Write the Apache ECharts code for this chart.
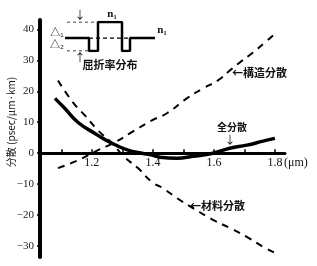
<!DOCTYPE html>
<html>
<head>
<meta charset="utf-8">
<script src="https://cdn.jsdelivr.net/npm/echarts@6/dist/echarts.min.js"></script>
<style>
  html, body { margin: 0; padding: 0; background: #fff; }
  #custom-chart { width: 317px; height: 266px; }
</style>
</head>
<body>
<div id="custom-chart"></div>
<script>
// 波長 (μm)
var totalX = [1.079, 1.111, 1.154, 1.210, 1.266, 1.318, 1.364, 1.397, 1.423, 1.479, 1.531, 1.597, 1.652, 1.708, 1.761, 1.800];
var totalY = [17.7, 14.5, 10.0, 6.4, 3.2, 1.0, 0, -0.6, -1.3, -1.6, -1.0, 0, 1.6, 2.6, 3.9, 4.8];

var materialX = [1.089, 1.138, 1.177, 1.220, 1.266, 1.308, 1.351, 1.397, 1.433, 1.479, 1.531, 1.597, 1.652, 1.708, 1.761, 1.800];
var materialY = [23.5, 16.4, 12.2, 7.4, 3.2, -1.3, -4.8, -9.3, -11.3, -14.5, -17.7, -21.5, -24.1, -27.0, -30.2, -32.2];

var structX = [1.089, 1.154, 1.220, 1.275, 1.331, 1.397, 1.446, 1.511, 1.564, 1.613, 1.652, 1.685, 1.728, 1.767, 1.800];
var structY = [-4.8, -2.3, 1.0, 3.5, 6.8, 10.6, 12.9, 17.7, 20.9, 23.5, 26.7, 29.3, 32.5, 35.7, 38.6];

var yTicks = [-30, -20, -10, 0, 10, 20, 30, 40];
var xTicks = [1.1, 1.2, 1.3, 1.4, 1.5, 1.6, 1.7, 1.8];
var xLabels = [1.2, 1.4, 1.6, 1.8];

// 屈折率分布 (模式図)
var profileR = [0, 2.4, 2.4, 3.3, 3.3, 5.7, 5.7, 6.5, 6.5, 9.0];
var profileN = [0, 0, -0.8, -0.8, 1, 1, -0.8, -0.8, 0, 0];
var delta1R = [0.2, 3.3];
var delta2R = [0.2, 2.4];
var coreR = [2.4, 6.5];

var numFont = '"Liberation Serif", "DejaVu Serif", serif';
var cjkFont = '"Noto Sans CJK JP", sans-serif';

var Y_MIN = -33.5, Y_MAX = 43;
var GRID_TOP = 20, GRID_BOTTOM = 9, H = 266;

function pairs(xs, ys) {
  return xs.map(function (x, i) { return [x, ys[i]]; });
}

function hLine(xs, y) {
  return xs.map(function (x) { return [x, y]; });
}

// x軸を y=0 の位置へ移す
var plotH = H - GRID_TOP - GRID_BOTTOM;
var zeroOffset = -(0 - Y_MIN) / (Y_MAX - Y_MIN) * plotH;

var chart = echarts.init(document.getElementById('custom-chart'));

var option = {
  backgroundColor: '#fff',
  animation: false,
  grid: [
    { left: 40, right: 32, top: GRID_TOP, bottom: GRID_BOTTOM, outerBoundsMode: 'none', containLabel: false },
    { left: 65, width: 90, top: 22, height: 29, outerBoundsMode: 'none', containLabel: false }
  ],
  xAxis: [
    {
      type: 'value',
      min: 1.03,
      max: 1.833,
      gridIndex: 0,
      position: 'bottom',
      offset: zeroOffset,
      splitLine: { show: false },
      axisLine: { onZero: false, lineStyle: { color: '#000', width: 3 } },
      axisTick: { inside: true, length: 4, customValues: xTicks, lineStyle: { color: '#000', width: 1.5 } },
      axisLabel: {
        customValues: xLabels,
        margin: 4,
        color: '#111',
        fontSize: 12,
        fontFamily: numFont,
        formatter: function (v) { return v.toFixed(1); }
      }
    },
    { type: 'value', gridIndex: 1, min: 0, max: 9, show: false }
  ],
  yAxis: [
    {
      type: 'value',
      min: Y_MIN,
      max: Y_MAX,
      gridIndex: 0,
      splitLine: { show: false },
      axisLine: { onZero: false, lineStyle: { color: '#000', width: 4 } },
      axisTick: { length: 3, customValues: yTicks, lineStyle: { color: '#000', width: 1.5 } },
      axisLabel: {
        customValues: yTicks,
        margin: 6,
        color: '#222',
        fontSize: 11,
        fontFamily: numFont,
        formatter: function (v) { return String(v).replace('-', '−'); }
      }
    },
    { type: 'value', gridIndex: 1, min: -0.8, max: 1, show: false }
  ],
  series: [
    {
      name: '全分散', type: 'line', smooth: true, showSymbol: false,
      data: pairs(totalX, totalY),
      lineStyle: { color: '#000', width: 3.5 }
    },
    {
      name: '材料分散', type: 'line', smooth: true, showSymbol: false,
      data: pairs(materialX, materialY),
      lineStyle: { color: '#000', width: 2, type: [7, 6] }
    },
    {
      name: '構造分散', type: 'line', smooth: true, showSymbol: false,
      data: pairs(structX, structY),
      lineStyle: { color: '#000', width: 2, type: [7, 6] }
    },
    {
      type: 'line', xAxisIndex: 1, yAxisIndex: 1, showSymbol: false,
      data: pairs(profileR, profileN),
      lineStyle: { color: '#000', width: 2.5 }
    },
    {
      type: 'line', xAxisIndex: 1, yAxisIndex: 1, showSymbol: false,
      data: hLine(delta1R, 1),
      lineStyle: { color: '#000', width: 1.2, type: [3, 3] }
    },
    {
      type: 'line', xAxisIndex: 1, yAxisIndex: 1, showSymbol: false,
      data: hLine(delta2R, -0.8),
      lineStyle: { color: '#000', width: 1.2, type: [3, 3] }
    },
    {
      type: 'line', xAxisIndex: 1, yAxisIndex: 1, showSymbol: false, z: 1,
      data: hLine(coreR, 0),
      lineStyle: { color: '#000', width: 1.2, type: [4, 3] }
    }
  ],
  graphic: [
    {
      type: 'text', rotation: Math.PI / 2,
      x: 11, y: 122,
      style: { text: '分散 (psec/μm·km)', font: '10px ' + cjkFont, fill: '#111', align: 'center', verticalAlign: 'middle' }
    },
    { type: 'text', x: 284, y: 163, style: { text: '(μm)', font: '12px ' + numFont, fill: '#111', verticalAlign: 'middle' } },
    { type: 'text', x: 232, y: 73, style: { text: '←構造分散', font: 'bold 11px ' + cjkFont, fill: '#111', verticalAlign: 'middle' } },
    { type: 'text', x: 232, y: 127, style: { text: '全分散', font: 'bold 10px ' + cjkFont, fill: '#111', align: 'center', verticalAlign: 'middle' } },
    { type: 'text', x: 230, y: 140, style: { text: '↓', font: '11px ' + cjkFont, fill: '#111', align: 'center', verticalAlign: 'middle' } },
    { type: 'text', x: 190, y: 206, style: { text: '←材料分散', font: 'bold 11px ' + cjkFont, fill: '#111', verticalAlign: 'middle' } },
    { type: 'text', x: 112, y: 14, style: { text: 'n₁', font: 'bold 11px ' + numFont, fill: '#111', align: 'center', verticalAlign: 'middle' } },
    { type: 'text', x: 162, y: 30, style: { text: 'n₁', font: 'bold 11px ' + numFont, fill: '#111', align: 'center', verticalAlign: 'middle' } },
    { type: 'text', x: 57, y: 32, style: { text: '△₁', font: '10px ' + cjkFont, fill: '#111', align: 'center', verticalAlign: 'middle' } },
    { type: 'text', x: 57, y: 44, style: { text: '△₂', font: '10px ' + cjkFont, fill: '#111', align: 'center', verticalAlign: 'middle' } },
    { type: 'text', x: 80, y: 15, style: { text: '↓', font: '11px ' + cjkFont, fill: '#111', align: 'center', verticalAlign: 'middle' } },
    { type: 'text', x: 80, y: 58, style: { text: '↑', font: '11px ' + cjkFont, fill: '#111', align: 'center', verticalAlign: 'middle' } },
    { type: 'text', x: 110, y: 65, style: { text: '屈折率分布', font: 'bold 11px ' + cjkFont, fill: '#111', align: 'center', verticalAlign: 'middle' } }
  ]
};

chart.setOption(option);
</script>
</body>
</html>
